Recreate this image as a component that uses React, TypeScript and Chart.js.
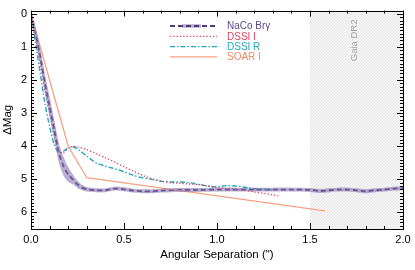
import React, { useEffect, useRef } from 'react';
import { Chart, registerables } from 'chart.js';

Chart.register(...registerables);

// ---- data ----
const nacoSep = [0, 0.025, 0.05, 0.075, 0.1, 0.125, 0.15, 0.175, 0.2, 0.225, 0.25, 0.275, 0.3, 0.35, 0.4, 0.45, 0.5, 0.55, 0.6, 0.65, 0.7, 0.8, 0.9, 1.0, 1.1, 1.2, 1.3, 1.4, 1.5, 1.55, 1.6, 1.65, 1.7, 1.75, 1.8, 1.85, 1.9, 1.95, 2.0];
const nacoMag = [0.0, 0.6, 1.3, 2.1, 2.8, 3.5, 4.2, 4.6, 4.85, 5.0, 5.15, 5.25, 5.3, 5.33, 5.33, 5.28, 5.3, 5.34, 5.36, 5.36, 5.34, 5.32, 5.32, 5.31, 5.31, 5.31, 5.31, 5.31, 5.32, 5.35, 5.33, 5.31, 5.31, 5.33, 5.36, 5.33, 5.31, 5.28, 5.27];
const nacoErr = [0.05, 0.2, 0.25, 0.28, 0.3, 0.3, 0.3, 0.28, 0.22, 0.15, 0.11, 0.08, 0.07, 0.06, 0.06, 0.06, 0.06, 0.06, 0.06, 0.06, 0.06, 0.06, 0.06, 0.06, 0.06, 0.06, 0.06, 0.06, 0.06, 0.06, 0.06, 0.06, 0.06, 0.06, 0.06, 0.06, 0.06, 0.06, 0.06];

const dssiISep = [0, 0.025, 0.05, 0.075, 0.1, 0.125, 0.15, 0.175, 0.2, 0.225, 0.25, 0.3, 0.35, 0.4, 0.45, 0.5, 0.55, 0.6, 0.65, 0.7, 0.75, 0.8, 0.85, 0.9, 0.95, 1.0, 1.05, 1.1, 1.15, 1.2, 1.25, 1.3, 1.33];
const dssiIMag = [0.0, 0.7, 1.5, 2.3, 3.0, 3.7, 4.15, 4.2, 4.05, 4.0, 4.02, 4.1, 4.22, 4.35, 4.48, 4.62, 4.75, 4.88, 4.98, 5.05, 5.1, 5.12, 5.14, 5.16, 5.2, 5.25, 5.28, 5.3, 5.33, 5.38, 5.42, 5.47, 5.5];

const dssiRSep = [0, 0.025, 0.05, 0.075, 0.1, 0.125, 0.15, 0.175, 0.2, 0.225, 0.25, 0.3, 0.35, 0.4, 0.45, 0.5, 0.55, 0.6, 0.65, 0.7, 0.75, 0.8, 0.85, 0.9, 0.95, 1.0, 1.05, 1.1, 1.15, 1.2, 1.25, 1.3];
const dssiRMag = [0.0, 0.9, 1.8, 2.7, 3.4, 3.95, 4.2, 4.15, 4.05, 4.02, 4.08, 4.3, 4.5, 4.6, 4.68, 4.77, 4.88, 4.95, 5.0, 5.06, 5.08, 5.08, 5.1, 5.15, 5.2, 5.23, 5.19, 5.2, 5.24, 5.28, 5.3, 5.32];

const soarSep = [0, 0.2, 0.3, 1.58];
const soarMag = [0.0, 4.0, 4.95, 5.95];

const xTickValues = [0, 0.5, 1.0, 1.5, 2.0];
const yTickValues = [0, 1, 2, 3, 4, 5, 6];
const gaiaRange = [1.5, 2.0];
const gaiaLabel = 'Gaia DR2';
const seriesNames = ['NaCo Br\u03b3', 'DSSI I', 'DSSI R', 'SOAR I'];

// ---- styles ----
const FONT = "'Liberation Sans', Arial, Helvetica, sans-serif";
const C_NACO = '#4a3a78';
const C_BAND = 'rgba(128, 108, 170, 0.55)';
const C_DSSII = '#e0435e';
const C_DSSIR = '#1fa9b9';
const C_SOAR = '#f5a286';
const TEXT_COLORS = ['#5a4a8c', '#dc3f5c', '#22a8bd', '#f08866'];
const DASHES: number[][] = [[5, 3], [1.3, 2], [5, 2, 1.5, 2], []];
const LINE_COLORS = [C_NACO, C_DSSII, C_DSSIR, C_SOAR];
const LINE_WIDTHS = [1.8, 1.3, 1.4, 1.3];

const pts = (xs: number[], ys: number[]) => xs.map((x, i) => ({ x, y: ys[i] }));

const decorPlugin = {
  id: 'decor',
  beforeDatasetsDraw(chart: any) {
    const { ctx, chartArea: a, scales } = chart;
    const xs = scales.x, ys = scales.y;
    const x0 = xs.getPixelForValue(gaiaRange[0]);
    const x1 = xs.getPixelForValue(gaiaRange[1]);
    ctx.save();
    ctx.beginPath();
    ctx.rect(x0, a.top, x1 - x0, a.bottom - a.top);
    ctx.clip();
    ctx.fillStyle = '#f8f8f8';
    ctx.fillRect(x0, a.top, x1 - x0, a.bottom - a.top);
    ctx.strokeStyle = '#d2d2d2';
    ctx.lineWidth = 0.6;
    const h = a.bottom - a.top;
    ctx.beginPath();
    for (let s = x0 - h; s < x1 + 3; s += 3) {
      ctx.moveTo(s, a.bottom);
      ctx.lineTo(s + h, a.top);
    }
    ctx.stroke();
    ctx.restore();

    ctx.save();
    ctx.translate(xs.getPixelForValue(1.74), ys.getPixelForValue(0.8));
    ctx.rotate(-Math.PI / 2);
    ctx.fillStyle = '#a8a8a8';
    ctx.font = `9.5px ${FONT}`;
    ctx.textAlign = 'center';
    ctx.textBaseline = 'middle';
    ctx.fillText(gaiaLabel, 0, 0);
    ctx.restore();
  },
  afterDatasetsDraw(chart: any) {
    const { ctx, chartArea: a, scales } = chart;
    const xs = scales.x, ys = scales.y;
    ctx.save();
    ctx.strokeStyle = '#000';
    ctx.lineWidth = 1;
    ctx.strokeRect(Math.round(a.left) + 0.5, Math.round(a.top) + 0.5, Math.round(a.right - a.left), Math.round(a.bottom - a.top));
    ctx.beginPath();
    for (let i = 0; i <= 20; i++) {
      const v = i / 10;
      const px = Math.round(xs.getPixelForValue(v)) + 0.5;
      const len = i % 5 === 0 ? 6 : 3;
      ctx.moveTo(px, a.bottom);
      ctx.lineTo(px, a.bottom - len);
      ctx.moveTo(px, a.top);
      ctx.lineTo(px, a.top + len);
    }
    for (let i = 0; i <= 65; i++) {
      const v = i / 10;
      const py = Math.round(ys.getPixelForValue(v)) + 0.5;
      const len = i % 10 === 0 ? 6 : 3;
      ctx.moveTo(a.left, py);
      ctx.lineTo(a.left + len, py);
      ctx.moveTo(a.right, py);
      ctx.lineTo(a.right - len, py);
    }
    ctx.stroke();
    ctx.restore();

    // legend
    const lx0 = 170, lx1 = 217, tx = 227;
    ctx.save();
    ctx.font = `10px ${FONT}`;
    ctx.textBaseline = 'middle';
    ctx.textAlign = 'left';
    seriesNames.forEach((name, i) => {
      const y = 26 + i * 10.3;
      if (i === 0) {
        ctx.strokeStyle = C_BAND;
        ctx.lineWidth = 3.5;
        ctx.setLineDash([]);
        ctx.beginPath();
        ctx.moveTo(lx0 + 12, y);
        ctx.lineTo(lx1 - 16, y);
        ctx.stroke();
      }
      ctx.strokeStyle = LINE_COLORS[i];
      ctx.lineWidth = LINE_WIDTHS[i];
      ctx.setLineDash(DASHES[i]);
      ctx.beginPath();
      ctx.moveTo(lx0, y);
      ctx.lineTo(lx1, y);
      ctx.stroke();
      ctx.fillStyle = TEXT_COLORS[i];
      ctx.fillText(name, tx, y + 0.5);
    });
    ctx.restore();
  },
};

export default function App() {
  const ref = useRef<HTMLCanvasElement | null>(null);
  useEffect(() => {
    document.body.style.margin = '0';
    const canvas = ref.current;
    if (!canvas) return;
    const chart = new Chart(canvas, {
      type: 'line',
      data: {
        datasets: [
          {
            label: 'band-upper',
            data: nacoSep.map((x, i) => ({ x, y: nacoMag[i] - nacoErr[i] })),
            borderWidth: 0,
            pointRadius: 0,
            fill: false,
            tension: 0.3,
          },
          {
            label: 'band-lower',
            data: nacoSep.map((x, i) => ({ x, y: nacoMag[i] + nacoErr[i] })),
            borderWidth: 0,
            pointRadius: 0,
            backgroundColor: C_BAND,
            fill: '-1',
            tension: 0.3,
          },
          {
            label: seriesNames[3],
            data: pts(soarSep, soarMag),
            borderColor: C_SOAR,
            borderWidth: LINE_WIDTHS[3],
            pointRadius: 0,
            fill: false,
          },
          {
            label: seriesNames[1],
            data: pts(dssiISep, dssiIMag),
            borderColor: C_DSSII,
            borderWidth: LINE_WIDTHS[1],
            borderDash: DASHES[1],
            pointRadius: 0,
            fill: false,
            tension: 0.3,
          },
          {
            label: seriesNames[2],
            data: pts(dssiRSep, dssiRMag),
            borderColor: C_DSSIR,
            borderWidth: LINE_WIDTHS[2],
            borderDash: DASHES[2],
            pointRadius: 0,
            fill: false,
            tension: 0.3,
          },
          {
            label: seriesNames[0],
            data: pts(nacoSep, nacoMag),
            borderColor: C_NACO,
            borderWidth: LINE_WIDTHS[0],
            borderDash: DASHES[0],
            pointRadius: 0,
            fill: false,
            tension: 0.3,
          },
        ],
      },
      options: {
        responsive: false,
        animation: false,
        layout: { padding: { top: 10, right: 12, left: 0, bottom: 0 } },
        plugins: { legend: { display: false }, tooltip: { enabled: false } },
        scales: {
          x: {
            type: 'linear',
            min: 0,
            max: 2,
            grid: { display: false, drawTicks: false },
            border: { display: false },
            afterBuildTicks: (s: any) => { s.ticks = xTickValues.map((v) => ({ value: v })); },
            afterFit: (s: any) => { s.height = 41; },
            ticks: {
              color: '#000',
              font: { family: FONT, size: 11 },
              padding: 4,
              maxRotation: 0,
              callback: (v: any) => Number(v).toFixed(1),
            },
            title: {
              display: true,
              text: 'Angular Separation (")',
              color: '#000',
              font: { family: FONT, size: 11.5 },
              padding: { top: 0, bottom: 8 },
            },
          },
          y: {
            type: 'linear',
            reverse: true,
            min: -0.1,
            max: 6.5,
            grid: { display: false, drawTicks: false },
            border: { display: false },
            afterBuildTicks: (s: any) => { s.ticks = yTickValues.map((v) => ({ value: v })); },
            afterFit: (s: any) => { s.width = 31; },
            ticks: {
              color: '#000',
              font: { family: FONT, size: 11 },
              padding: 4,
              callback: (v: any) => String(v),
            },
            title: {
              display: true,
              text: '\u0394Mag',
              color: '#000',
              font: { family: FONT, size: 11.5 },
              padding: { top: 1, bottom: 0 },
            },
          },
        },
      },
      plugins: [decorPlugin],
    } as any);
    return () => chart.destroy();
  }, []);
  return (
    <div style={{ position: 'fixed', left: 0, top: 0, width: 415, height: 270, background: '#fff' }}>
      <canvas ref={ref} width={415} height={270} style={{ display: 'block' }} />
    </div>
  );
}
